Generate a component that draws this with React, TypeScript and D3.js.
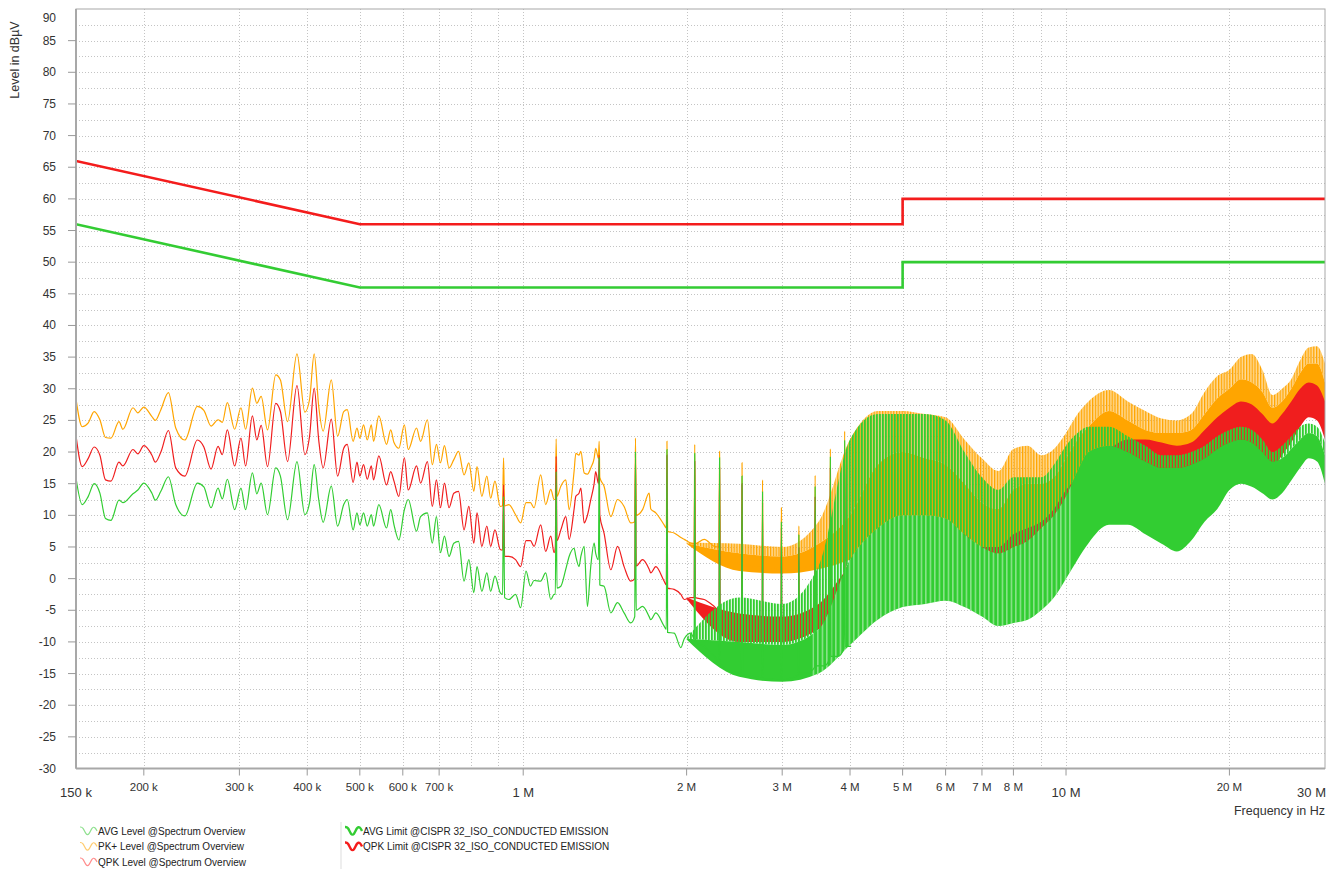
import React from "react";
import * as d3 from "d3";

// ---- measured traces, low band (kHz) ----
const lineKHz = [
  150, 154, 158, 162, 166, 170, 174, 180, 183, 191, 195, 200, 207, 210, 215, 222, 229, 238, 251, 258,
  266, 274, 279, 285, 294, 302, 308, 317, 323, 329, 338, 350, 357, 368, 383, 396, 404, 412, 420, 428,
  443, 455, 467, 474, 486, 494, 500, 508, 516, 525, 530, 542, 560, 570, 578, 590, 604, 614, 636, 647,
  666, 680, 692, 704, 716, 730, 745, 760, 778, 794, 811, 822, 839, 857, 871, 887, 907, 916, 920, 924,
  941, 968, 989, 1012, 1031, 1047, 1077, 1100, 1124, 1140, 1146, 1150, 1154, 1173, 1198, 1215, 1241, 1250, 1267, 1277,
  1295, 1313, 1332, 1351, 1360, 1376, 1380, 1384, 1409, 1450, 1492, 1534, 1578, 1605, 1610, 1615, 1659, 1706, 1718, 1755,
  1818, 1835, 1840, 1845, 1897, 1952, 1980, 2037, 2065, 2070, 2075, 2155, 2249, 2294, 2300, 2306, 2381, 2484, 2524, 2530,
  2536, 2628, 2704, 2754, 2760, 2766, 2861, 2983, 2990, 2997, 3115, 3213, 3220, 3227, 3344, 3442, 3450, 3458, 3588, 3672,
  3680, 3688, 3798, 3901, 3910, 3919, 4019,
];

const pkLine = [
  28.4, 24.0, 24.6, 26.4, 25.1, 22.3, 22.2, 24.8, 23.6, 27.0, 26.2, 27.1, 25.6, 25.0, 26.7, 29.4, 23.8, 21.9, 27.2, 26.6,
  24.1, 25.1, 24.7, 27.8, 23.6, 27.0, 23.6, 30.1, 27.7, 28.8, 23.5, 32.2, 31.4, 24.8, 35.5, 26.3, 28.3, 35.5, 27.2, 23.3,
  31.4, 22.5, 26.4, 26.7, 21.7, 23.8, 22.2, 24.3, 21.9, 24.3, 21.7, 25.7, 21.2, 23.5, 21.5, 20.6, 24.3, 20.4, 23.8, 21.7,
  25.1, 18.0, 21.2, 18.3, 21.0, 17.5, 18.8, 20.1, 16.4, 18.3, 13.8, 17.7, 13.0, 16.2, 12.7, 15.4, 11.4, 11.5, 19.1, 11.5,
  11.7, 10.1, 8.8, 12.0, 12.0, 11.2, 16.4, 11.7, 14.1, 12.5, 12.5, 22.1, 13.0, 14.6, 15.6, 10.9, 17.0, 19.8, 19.5, 20.1,
  16.7, 16.5, 17.5, 19.0, 20.6, 19.0, 21.7, 16.0, 14.6, 9.8, 12.5, 11.4, 8.8, 9.0, 22.2, 10.0, 10.9, 13.5, 11.0, 10.4,
  8.5, 8.0, 21.7, 7.5, 7.2, 6.5, 6.2, 5.6, 5.5, 21.2, 5.5, 6.2, 5.1, 5.0, 20.1, 4.5, 3.0, 2.5, 2.3, 18.3,
  2.2, 1.9, 1.8, 1.8, 15.6, 1.7, 1.7, 1.5, 11.2, 1.5, 1.4, 1.6, 8.3, 1.7, 1.9, 2.5, 16.3, 2.8, 4.1, 5.0,
  20.5, 5.2, 5.6, 6.0, 23.3, 6.2, 6.2,
];

const qpkLine = [
  22.6, 17.7, 19.0, 20.8, 19.5, 15.6, 15.4, 18.4, 17.8, 20.4, 19.7, 21.0, 19.5, 18.4, 20.0, 23.4, 17.5, 16.2, 21.9, 20.8,
  17.3, 20.9, 19.6, 23.5, 17.8, 22.2, 17.8, 25.7, 21.9, 24.2, 17.7, 27.7, 26.4, 18.5, 30.5, 19.6, 22.5, 30.1, 21.9, 17.5,
  25.2, 16.2, 20.6, 21.2, 15.2, 18.4, 16.2, 18.0, 15.7, 17.8, 15.6, 19.4, 14.8, 16.9, 15.4, 13.0, 19.1, 14.0, 17.8, 15.1,
  18.5, 11.4, 15.6, 11.2, 15.1, 11.2, 13.5, 13.8, 7.7, 11.4, 5.6, 10.4, 5.1, 8.3, 5.1, 7.7, 4.6, 4.5, 14.8, 3.5,
  3.5, 3.0, 1.9, 6.0, 6.0, 5.1, 8.5, 4.3, 6.7, 4.1, 5.0, 19.3, 6.0, 7.7, 9.8, 6.2, 11.0, 13.0, 13.5, 14.3,
  8.8, 10.0, 12.5, 15.0, 16.9, 15.0, 19.5, 10.0, 7.2, 1.4, 5.1, 1.9, -0.4, 0.0, 19.8, 2.0, 3.0, 1.5, 0.9, 1.9,
  -0.4, -1.0, 19.5, -1.5, -1.7, -2.5, -3.3, -3.0, -3.0, 18.5, -3.0, -3.3, -4.4, -5.0, 17.5, -5.5, -6.5, -8.0, -8.6, 15.0,
  -8.8, -9.2, -9.6, -9.5, 12.0, -9.5, -9.4, -9.5, 8.0, -9.6, -9.6, -9.0, 5.0, -9.0, -8.6, -7.5, 13.0, -7.2, -5.5, -4.5,
  17.5, -4.4, -3.0, -1.5, 20.0, -1.2, -1.2,
];

const avgLine = [
  15.9, 11.7, 13.0, 15.0, 13.5, 9.5, 9.2, 12.4, 12.0, 13.4, 14.0, 15.1, 13.5, 12.4, 13.8, 16.1, 11.7, 9.9, 15.1, 14.5,
  11.2, 14.3, 12.6, 15.7, 10.9, 14.3, 10.9, 16.7, 13.4, 15.1, 10.1, 17.5, 16.2, 9.3, 18.5, 10.1, 12.0, 18.0, 12.5, 8.9,
  14.6, 8.3, 11.7, 12.5, 7.7, 10.4, 8.5, 10.4, 8.3, 10.1, 8.3, 11.7, 8.0, 10.9, 8.5, 6.1, 10.9, 12.5, 7.5, 9.8,
  10.4, 5.6, 9.8, 4.1, 6.7, 3.5, 5.6, 5.9, -0.4, 3.0, -2.2, 1.9, -2.0, 0.9, -2.0, 0.4, -2.2, -2.5, 13.0, -3.0,
  -3.3, -2.5, -4.6, 1.2, -1.2, -0.3, -0.4, 0.9, -3.3, -2.5, -2.5, 16.9, -1.5, -1.2, 1.5, 3.5, 4.8, 3.5, 1.9, 3.5,
  5.1, -4.4, 2.0, 5.6, 4.0, 3.0, 19.1, -1.0, -1.2, -5.4, -3.8, -5.4, -7.0, -6.0, 20.1, -5.0, -4.4, -6.0, -6.5, -5.4,
  -7.5, -8.0, 20.4, -8.5, -8.6, -10.9, -9.5, -8.6, -9.5, 19.8, -10.0, -10.7, -12.3, -13.0, 19.1, -13.5, -14.4, -14.9, -15.0, 16.2,
  -15.2, -15.4, -15.6, -15.8, 13.8, -15.9, -15.9, -16.0, 9.0, -16.0, -15.7, -15.2, 7.0, -15.0, -14.9, -14.0, 14.6, -13.8, -13.8, -12.5,
  19.3, -12.3, -12.3, -11.0, 21.9, -10.7, -10.7,
];

// ---- dense upper band (MHz): envelopes ----
const bandMHz = [
  2, 2.5, 3, 3.5, 4, 4.5, 5, 5.5, 6, 6.5, 7, 7.5, 8, 8.5, 9, 9.5, 10, 10.5, 11,
  12, 13, 14, 15, 16, 17, 18, 19, 20, 21, 22, 23, 24, 25, 26, 27, 28, 29, 30,
];
const pkLo = [5.5, 1.2, 0.8, 1.5, 3, 5, 6, 6, 5, 4, 3, 2, 3, 4, 5, 7, 10, 12, 13, 14, 15, 17, 18, 18, 18.5, 19, 20, 21, 22, 22, 21, 20, 21, 23, 25, 27, 27, 24];
const pkHi = [5.6, 4, 3.5, 5.5, 10, 18, 20, 19, 18, 15, 12, 11, 14, 15, 15, 16, 19, 22, 24, 26.5, 25, 23.5, 23, 23, 23.5, 26, 28.5, 30, 31.5, 31, 29.5, 27, 28, 30, 32.5, 34, 34, 31];
const pkPeak = [5.7, 5.5, 5, 9, 22, 26.5, 26.5, 26, 25.5, 22, 19, 17, 20.5, 21, 19.5, 20.5, 23, 26, 28, 29.8, 28, 26.5, 25.3, 25, 26, 29.5, 32, 33, 35, 35.5, 33, 29, 30, 31.5, 34.5, 36.5, 36.7, 34];
const qpkLo = [-3.2, -10, -10, -8, -4, -3, -2, -2, -2, -3, -4, -4.5, -3, -2.5, -2, 0, 3, 5.5, 8, 10, 13, 16, 17, 17, 17.5, 18, 19, 20, 21, 20.5, 19, 17.5, 19.5, 21.5, 24, 25.5, 25, 22];
const qpkHi = [-3.0, -5.5, -6, -4, 2, 5, 8, 8, 8, 7, 5, 5, 7, 8, 9, 11, 14, 16, 18, 20.5, 22, 22, 21.5, 21, 21.5, 23.5, 25.5, 27, 28, 27.5, 26, 24.5, 26, 28, 30, 31, 30.5, 28];
const avgLo = [-9.6, -15.5, -16.3, -15, -10.5, -6.5, -4.5, -4, -3.5, -4.5, -6, -7.5, -7, -6.5, -5, -3, 0, 3, 5.6, 8.5, 8.5, 7, 5.5, 4.3, 6, 9, 11, 14, 15, 14.5, 13.5, 12.5, 13.5, 15.5, 17.5, 19, 18.5, 15];
const avgHi = [-9.5, -10, -10.5, -8, 3, 8, 10, 10, 9.5, 7, 5, 4, 5, 6, 8, 10, 13, 17, 20, 21, 20, 18.5, 17.5, 17.5, 18, 19, 20.5, 21.5, 22, 21.5, 20, 18.5, 19, 20.5, 22, 23, 22.5, 19.5];
const avgPeak = [-9.4, -3, -4, 2, 22, 26, 26, 26, 25, 20, 16, 14, 16, 16, 16, 18, 21, 23, 24, 24, 22.5, 21, 19.5, 19.5, 20, 21, 22.5, 23.5, 24, 23.5, 22, 20, 21, 22.5, 24, 24.5, 24, 21.5];

// ---- limits (MHz, dBuV) ----
const limitMHz = [0.15, 0.5, 5, 5, 30];
const qpkLimit = [66, 56, 56, 60, 60];
const avgLimit = [56, 46, 46, 50, 50];

// ---- axes ----
const yTicks = d3.range(-30, 91, 5);
const yGrid = d3.range(-27.5, 90, 2.5);
const xGridMHz = [0.2, 0.3, 0.4, 0.5, 0.6, 0.7, 0.8, 0.9, 1, 2, 3, 4, 5, 6, 7, 8, 9, 10, 20];
const xTickMHz = [0.15, 0.2, 0.3, 0.4, 0.5, 0.6, 0.7, 1, 2, 3, 4, 5, 6, 7, 8, 10, 20, 30];
const xTickText = ["150 k", "200 k", "300 k", "400 k", "500 k", "600 k", "700 k", "1 M", "2 M", "3 M", "4 M", "5 M", "6 M", "7 M", "8 M", "10 M", "20 M", "30 M"];
const xTickMajor = ["150 k", "1 M", "10 M", "30 M"];

const legendLeft = [
  { name: "AVG Level @Spectrum Overview", color: "#8fe08f" },
  { name: "PK+ Level @Spectrum Overview", color: "#ffcc70" },
  { name: "QPK Level @Spectrum Overview", color: "#ff8c8c" },
];
const legendRight = [
  { name: "AVG Limit @CISPR 32_ISO_CONDUCTED EMISSION", color: "#33cc33" },
  { name: "QPK Limit @CISPR 32_ISO_CONDUCTED EMISSION", color: "#f41c1c" },
];

const PK = "#ffa500";
const QPK = "#f01e1e";
const AVG = "#32cd32";

const left = 76, right = 1325, top = 9, bottom = 768.5;

export default function App() {
  const x = d3.scaleLog().domain([0.15, 30]).range([left, right]);
  const y = d3.scaleLinear().domain([-30, 90]).range([bottom, top]);

  const line = d3
    .line<[number, number]>()
    .x(d => x(d[0]))
    .y(d => y(d[1]))
    .curve(d3.curveMonotoneX);
  const straight = d3
    .line<[number, number]>()
    .x(d => x(d[0]))
    .y(d => y(d[1]));
  const area = d3
    .area<[number, number, number]>()
    .x(d => x(d[0]))
    .y0(d => y(d[1]))
    .y1(d => y(d[2]))
    .curve(d3.curveMonotoneX);

  const trace = (vals: number[]) => line(lineKHz.map((k, i) => [k / 1000, vals[i]] as [number, number]));
  const band = (lo: number[], hi: number[]) =>
    area(bandMHz.map((f, i) => [f, lo[i], hi[i]] as [number, number, number]));
  const limit = (vals: number[]) => straight(limitMHz.map((f, i) => [f, vals[i]] as [number, number]));

  const wave = d3
    .line<[number, number]>()
    .curve(d3.curveBasis)([[0, -4], [3, -4], [6, 4], [9, 4], [12, -4], [15, -4], [17, 0]]);

  return (
    <svg
      width={1334}
      height={869}
      style={{ position: "absolute", left: 0, top: 0, background: "#fff" }}
      fontFamily="'Liberation Sans', Arial, sans-serif"
    >
      <defs>
        <clipPath id="plot">
          <rect x={left} y={top} width={right - left} height={bottom - top} />
        </clipPath>
        <clipPath id="midBand">
          <rect x={x(3.4)} y={top} width={x(10.3) - x(3.4)} height={bottom - top} />
        </clipPath>
        <pattern id="avgSpikes" width={3} height={6} patternUnits="userSpaceOnUse">
          <rect width={1.8} height={6} fill={AVG} />
          <rect x={1.8} width={0.6} height={6} fill={AVG} fillOpacity={0.45} />
        </pattern>
        <pattern id="pkSpikes" width={2.8} height={6} patternUnits="userSpaceOnUse">
          <rect width={2.8} height={6} fill={PK} fillOpacity={0.4} />
          <rect width={1.3} height={6} fill={PK} />
        </pattern>
        <pattern id="gaps" width={4.5} height={6} patternUnits="userSpaceOnUse">
          <rect x={3} width={0.9} height={6} fill="#fff" fillOpacity={0.75} />
        </pattern>
      </defs>

      {/* grid */}
      <g stroke="#c4c4c4" strokeWidth={1} strokeDasharray="1,2">
        {yGrid.map(v => (
          <line key={"h" + v} x1={left} x2={right} y1={Math.round(y(v)) + 0.5} y2={Math.round(y(v)) + 0.5} />
        ))}
        {xGridMHz.map(f => (
          <line key={"v" + f} x1={Math.round(x(f)) + 0.5} x2={Math.round(x(f)) + 0.5} y1={top} y2={bottom} />
        ))}
      </g>

      {/* limits */}
      <g clipPath="url(#plot)" fill="none" strokeWidth={2.6}>
        <path d={limit(qpkLimit) || ""} stroke="#f41c1c" />
        <path d={limit(avgLimit) || ""} stroke="#33cc33" />
      </g>

      {/* traces */}
      <g clipPath="url(#plot)">
        <path d={band(pkHi, pkPeak) || ""} fill="url(#pkSpikes)" />
        <path d={band(pkLo, pkHi) || ""} fill={PK} />
        <path d={trace(pkLine) || ""} fill="none" stroke={PK} strokeWidth={1.2} />

        <path d={band(qpkLo, qpkHi) || ""} fill={QPK} />
        <path d={trace(qpkLine) || ""} fill="none" stroke={QPK} strokeWidth={1.2} />

        <path d={band(avgHi, avgPeak) || ""} fill="url(#avgSpikes)" />
        <path d={band(avgLo, avgHi) || ""} fill={AVG} />
        <g clipPath="url(#midBand)">
          <path d={band(avgLo, avgHi) || ""} fill="url(#gaps)" />
        </g>
        <path d={trace(avgLine) || ""} fill="none" stroke={AVG} strokeWidth={1.2} />
      </g>

      {/* frame */}
      <g stroke="#a8a8a8" fill="none">
        <rect x={left} y={top} width={right - left} height={bottom - top} strokeWidth={1} />
        <line x1={left} x2={left} y1={top} y2={bottom} strokeWidth={2} />
        <line x1={left} x2={right} y1={bottom} y2={bottom} strokeWidth={2} />
      </g>

      {/* y axis */}
      <g fontSize={12} fill="#333">
        {yTicks.map(v => (
          <g key={"yt" + v}>
            {v < 90 && v > -30 && (
              <line x1={68} x2={left} y1={y(v)} y2={y(v)} stroke="#999" />
            )}
            <text x={56} y={v === 90 ? y(v) + 9 : y(v)} textAnchor="end" dominantBaseline="central">
              {v}
            </text>
          </g>
        ))}
        <text transform="translate(19,60) rotate(-90)" textAnchor="middle" fontSize={12.5}>
          Level in dBµV
        </text>
      </g>

      {/* x axis */}
      <g fill="#333">
        {xTickMHz.map((f, i) => {
          const major = xTickMajor.includes(xTickText[i]);
          const last = i === xTickMHz.length - 1;
          const tick = i > 0 && !last;
          return (
            <g key={"xt" + f}>
              {tick && <line x1={x(f)} x2={x(f)} y1={bottom} y2={bottom + 7} stroke="#999" />}
              <text
                x={last ? right + 1 : x(f)}
                y={major ? 797 : 791}
                textAnchor={last ? "end" : "middle"}
                fontSize={major ? 13 : 11.5}
              >
                {xTickText[i]}
              </text>
            </g>
          );
        })}
        <text x={right} y={815} textAnchor="end" fontSize={12.5}>
          Frequency in Hz
        </text>
      </g>

      {/* legend */}
      <g fontSize={10} fill="#222">
        {legendLeft.map((d, i) => (
          <g key={d.name} transform={`translate(80,${831 + i * 15.5})`}>
            <path d={wave || ""} fill="none" stroke={d.color} strokeWidth={1.2} />
            <text x={18} y={0} dominantBaseline="central">
              {d.name}
            </text>
          </g>
        ))}
        <line x1={341} x2={341} y1={822} y2={869} stroke="#ddd" />
        {legendRight.map((d, i) => (
          <g key={d.name} transform={`translate(345,${831 + i * 15.5})`}>
            <path d={wave || ""} fill="none" stroke={d.color} strokeWidth={2.4} />
            <text x={18} y={0} dominantBaseline="central">
              {d.name}
            </text>
          </g>
        ))}
      </g>
    </svg>
  );
}
